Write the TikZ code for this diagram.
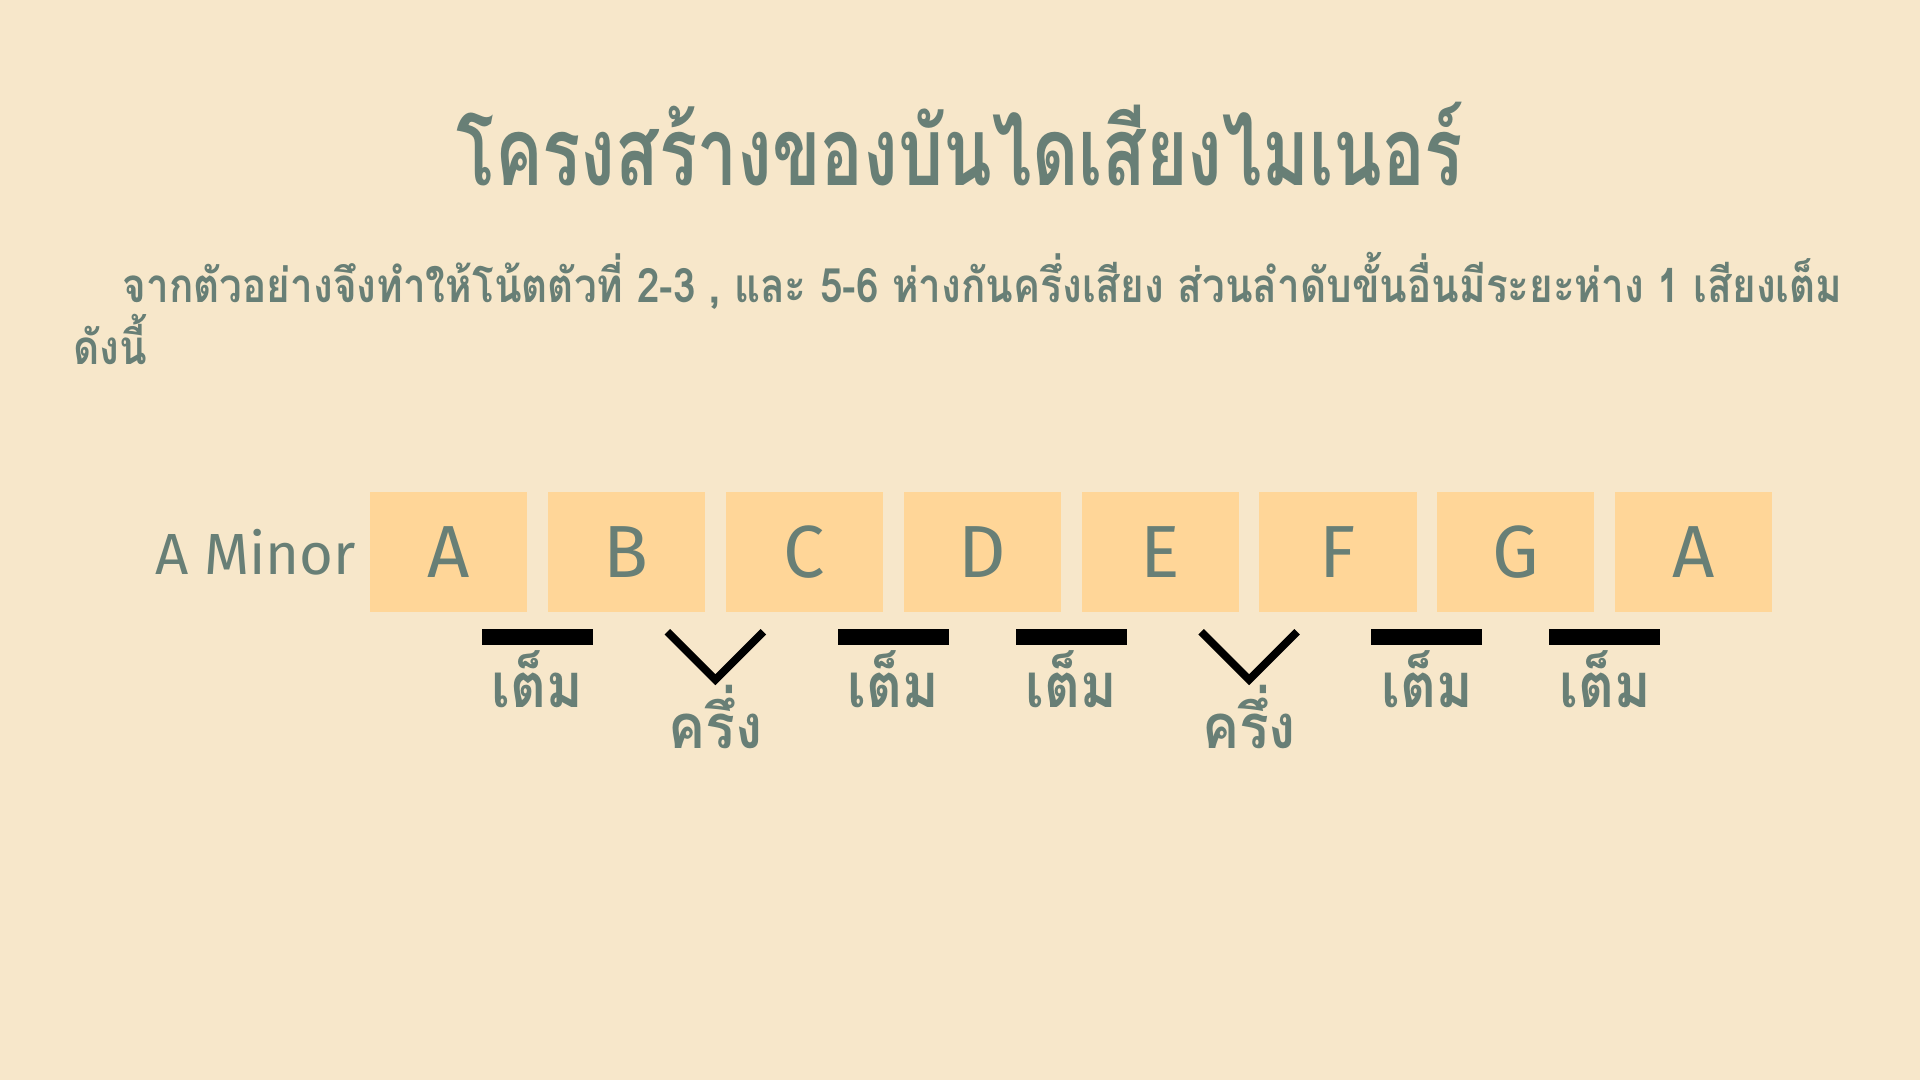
\documentclass[tikz,border=0pt]{standalone}
\usepackage{fontspec}
\usepackage{graphicx}
\usetikzlibrary{calc}
\setmainfont{Fira Sans}
\newfontfamily\thaifont[Script=Thai]{Loma}
\definecolor{bg}{HTML}{F7E7CA}
\definecolor{ink}{HTML}{687F76}
\definecolor{boxfill}{HTML}{FFD698}
\begin{document}
\begin{tikzpicture}[x=0.01cm,y=-0.01cm,
  notebox/.style={fill=boxfill, minimum width=1.57cm, minimum height=1.2cm, inner sep=0pt, text=ink, font=\fontsize{21}{21}\selectfont},
  wholebar/.style={fill=black},
  halfv/.style={draw=black, line width=2.2pt},
  steplabel/.style={text=ink, font=\thaifont\bfseries\fontsize{17.5}{17.5}\selectfont, inner sep=0pt},
  titletext/.style={text=ink, font=\thaifont\bfseries\fontsize{27}{27}\selectfont, inner sep=0pt},
  bodytext/.style={text=ink, font=\thaifont\bfseries\fontsize{13.5}{13.5}\selectfont, inner sep=0pt}
]
\fill[bg] (0,0) rectangle (1920,1080);
\path[use as bounding box] (0,0) rectangle (1920,1080);

\node[titletext, anchor=base] (title) at (960,186) {\scalebox{0.75}[1]{โครงสร้างของบันไดเสียงไมเนอร์}};
\node[bodytext, anchor=base west] (line1) at (122,303) {\scalebox{0.852}[1]{จากตัวอย่างจึงทำให้โน้ตตัวที่ 2-3 , และ 5-6 ห่างกันครึ่งเสียง ส่วนลำดับขั้นอื่นมีระยะห่าง 1 เสียงเต็ม}};
\node[bodytext, anchor=base west] (line2) at (73,365) {\scalebox{0.852}[1]{ดังนี้}};

\node[text=ink, font=\fontsize{16.5}{16.5}\selectfont, anchor=base west, inner sep=0pt] (scale) at (155,575) {A Minor};

\foreach \l [count=\i from 0] in {A,B,C,D,E,F,G,A}{
  \node[notebox] (n\i) at (448.5+177.9*\i,552) {\l};
}
\foreach \i in {0,...,6}{
  \pgfmathtruncatemacro{\j}{\i+1}
  \coordinate (g\i) at ($(n\i.south)!0.5!(n\j.south)$);
}
\foreach \i in {0,2,3,5,6}{
  \fill[wholebar] ([xshift=-0.555cm,yshift=-0.16cm]g\i) rectangle ([xshift=0.555cm,yshift=-0.32cm]g\i);
  \node[steplabel] (w\i) at ([yshift=-0.66cm]g\i) {\scalebox{0.9}[1]{เต็ม}};
}
\foreach \i in {1,4}{
  \draw[halfv] ([xshift=-0.48cm,yshift=-0.19cm]g\i) -- ([yshift=-0.67cm]g\i) -- ([xshift=0.48cm,yshift=-0.19cm]g\i);
  \node[steplabel] (h\i) at ([yshift=-1.04cm]g\i) {\scalebox{0.9}[1]{ครึ่ง}};
}
\end{tikzpicture}
\end{document}
